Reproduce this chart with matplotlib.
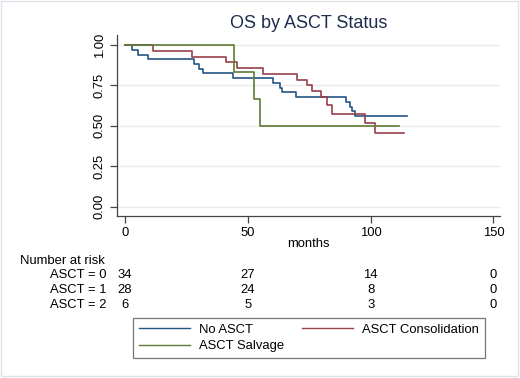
import matplotlib
matplotlib.use("Agg")
import matplotlib.pyplot as plt
from matplotlib.lines import Line2D
from matplotlib.patches import Rectangle
from matplotlib.transforms import blended_transform_factory

plt.rcParams["font.family"] = ["Liberation Sans", "DejaVu Sans"]

# Kaplan-Meier step data (months, survival)
no_asct_t = [0, 2.7, 5.4, 9.5, 28, 30, 31.6, 44.1, 60.1, 62.9, 63.8, 69.7, 90, 91.4, 92.3, 93.7, 114.7]
no_asct_s = [1.0, 0.971, 0.941, 0.912, 0.882, 0.853, 0.824, 0.794, 0.764, 0.736, 0.712, 0.676, 0.645, 0.618, 0.59, 0.56, 0.56]

consol_t = [0, 11.5, 27.3, 41.2, 45.5, 56.1, 69.9, 74.2, 76.1, 79.8, 82.4, 84.1, 97.8, 101.9, 113.6]
consol_s = [1.0, 0.964, 0.929, 0.893, 0.857, 0.821, 0.786, 0.75, 0.714, 0.679, 0.629, 0.571, 0.52, 0.454, 0.454]

salvage_t = [0, 44.4, 52.5, 55.0, 111.4]
salvage_s = [1.0, 0.833, 0.667, 0.5, 0.5]

risk_times = [0, 50, 100, 150]
risk_rows = ["ASCT = 0", "ASCT = 1", "ASCT = 2"]
risk_counts = [[34, 27, 14, 0], [28, 24, 8, 0], [6, 5, 3, 0]]

c_blue = "#235584"
c_red = "#97404a"
c_green = "#5e7a38"
fs = 9.4

W, H = 520, 378
fig = plt.figure(figsize=(W / 100, H / 100), dpi=100)
fig.patch.set_facecolor("white")
fig.patches.append(Rectangle((0.002, 0.004), 0.994, 0.993, transform=fig.transFigure,
                             fill=False, edgecolor="#dde2e8", linewidth=1.0))

ax = fig.add_axes([117 / W, 1 - 216 / H, 383 / W, 181 / H])
ax.set_xlim(-3.3, 152.7)
ax.set_ylim(-0.0575, 1.062)

for yv in [0, 0.25, 0.5, 0.75, 1.0]:
    ax.axhline(yv, color="#eaeaea", linewidth=1.0, zorder=0)

ax.step(no_asct_t, no_asct_s, where="post", color=c_blue, linewidth=1.2)
ax.step(consol_t, consol_s, where="post", color=c_red, linewidth=1.2)
ax.step(salvage_t, salvage_s, where="post", color=c_green, linewidth=1.2)

for s in ["top", "right"]:
    ax.spines[s].set_visible(False)
for s in ["left", "bottom"]:
    ax.spines[s].set_color("#444444")
    ax.spines[s].set_linewidth(0.9)

ax.set_xticks(risk_times)
ax.set_yticks([0, 0.25, 0.5, 0.75, 1.0])
ax.set_yticklabels(["0.00", "0.25", "0.50", "0.75", "1.00"], rotation=90, va="center")
ax.tick_params(axis="both", labelsize=fs, color="#444444", length=5, width=0.9, pad=3)
ax.set_xlabel("months", fontsize=fs, labelpad=-1)

fig.text(309 / W, 1 - 23 / H, "OS by ASCT Status", ha="center", va="center",
         fontsize=13, color="#1e2d4f")

# number at risk table
tr = blended_transform_factory(ax.transData, fig.transFigure)
fig.text(20 / W, 1 - 261 / H, "Number at risk", ha="left", va="center", fontsize=fs)
row_y = [275, 290, 305]
for name, counts, yp in zip(risk_rows, risk_counts, row_y):
    fig.text(106 / W, 1 - yp / H, name, ha="right", va="center", fontsize=fs)
    for t, n in zip(risk_times, counts):
        fig.text(t, 1 - yp / H, str(n), ha="center", va="center", fontsize=fs, transform=tr)

handles = [Line2D([], [], color=c_blue, linewidth=1.0),
           Line2D([], [], color=c_green, linewidth=1.0),
           Line2D([], [], color=c_red, linewidth=1.0)]
labels = ["No ASCT", "ASCT Salvage", "ASCT Consolidation"]
leg = fig.legend(handles, labels, loc="upper left",
                 bbox_to_anchor=(133 / W, 1 - 317.7 / H, 352 / W, 0.0),
                 mode="expand", ncol=2, frameon=True, fancybox=False,
                 edgecolor="#555555", handlelength=3.9, fontsize=fs,
                 borderaxespad=0, labelspacing=0.35, handletextpad=0.7,
                 borderpad=0.45)
leg.get_frame().set_linewidth(0.9)

fig.savefig("out.png", dpi=100)
